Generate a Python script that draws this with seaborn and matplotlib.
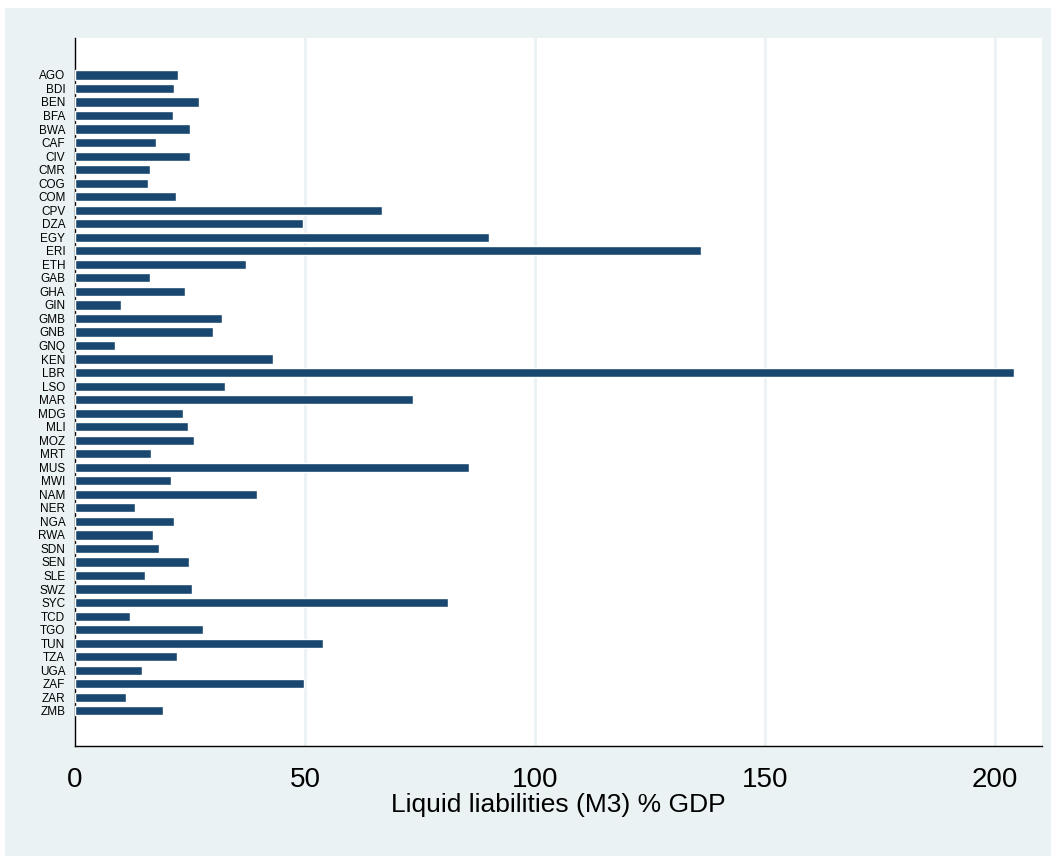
import matplotlib
matplotlib.use("Agg")
import matplotlib.pyplot as plt
import pandas as pd
import seaborn as sns
from matplotlib.patches import Rectangle

# Datos
paises = ["AGO", "BDI", "BEN", "BFA", "BWA", "CAF", "CIV", "CMR", "COG", "COM",
          "CPV", "DZA", "EGY", "ERI", "ETH", "GAB", "GHA", "GIN", "GMB", "GNB",
          "GNQ", "KEN", "LBR", "LSO", "MAR", "MDG", "MLI", "MOZ", "MRT", "MUS",
          "MWI", "NAM", "NER", "NGA", "RWA", "SDN", "SEN", "SLE", "SWZ", "SYC",
          "TCD", "TGO", "TUN", "TZA", "UGA", "ZAF", "ZAR", "ZMB"]
m3_pib = [22.3, 21.5, 26.9, 21.2, 24.9, 17.5, 25.1, 16.4, 15.9, 22.0,
          66.7, 49.6, 89.9, 136.0, 37.2, 16.4, 23.9, 10.1, 32.0, 30.1,
          8.7, 43.0, 204.1, 32.5, 73.5, 23.5, 24.5, 25.9, 16.5, 85.7,
          20.9, 39.6, 13.1, 21.5, 17.0, 18.3, 24.8, 15.3, 25.4, 81.1,
          12.0, 27.8, 53.8, 22.2, 14.6, 49.8, 11.1, 19.2]
ticks_x = [0, 50, 100, 150, 200]
etiqueta_x = "Liquid liabilities (M3) % GDP"

df = pd.DataFrame({"pais": paises, "valor": m3_pib})

azul = "#1a476f"
fondo = "#eaf2f3"

sns.set_style("white")
plt.rcParams["font.family"] = ["Liberation Sans", "DejaVu Sans"]
plt.rcParams["text.color"] = "black"
plt.rcParams["axes.labelcolor"] = "black"
plt.rcParams["xtick.color"] = "black"
plt.rcParams["ytick.color"] = "black"

fig = plt.figure(figsize=(10.56, 8.59), dpi=100, facecolor="white")
fig.add_artist(Rectangle((5 / 1056, 1 - 856 / 859), 1046 / 1056, 848 / 859,
                         transform=fig.transFigure, facecolor=fondo,
                         edgecolor="none", zorder=-10))
ax = fig.add_axes([75 / 1056, 1 - 746 / 859, 967 / 1056, 708 / 859])
ax.set_zorder(1)
ax.set_facecolor("white")

sns.barplot(data=df, y="pais", x="valor", orient="h", color=azul,
            saturation=1, width=0.68, ax=ax, zorder=3)

for t in ticks_x[1:]:
    ax.axvline(t, color=fondo, lw=2, zorder=1)

ax.set_xlim(0, 210.2)
ax.set_ylim(len(paises) - 1 + 2.6, -2.73)
ax.set_xticks(ticks_x)
ax.tick_params(axis="x", length=9, width=1, labelsize=20, pad=6)
ax.tick_params(axis="y", length=0, labelsize=8.5, pad=7)
ax.set_ylabel("")
ax.set_xlabel(etiqueta_x, fontsize=19, labelpad=0)

for s in ["top", "right"]:
    ax.spines[s].set_visible(False)
for s in ["left", "bottom"]:
    ax.spines[s].set_color("black")
    ax.spines[s].set_linewidth(1)

fig.savefig("out.png", dpi=100, facecolor="white")
plt.close()
